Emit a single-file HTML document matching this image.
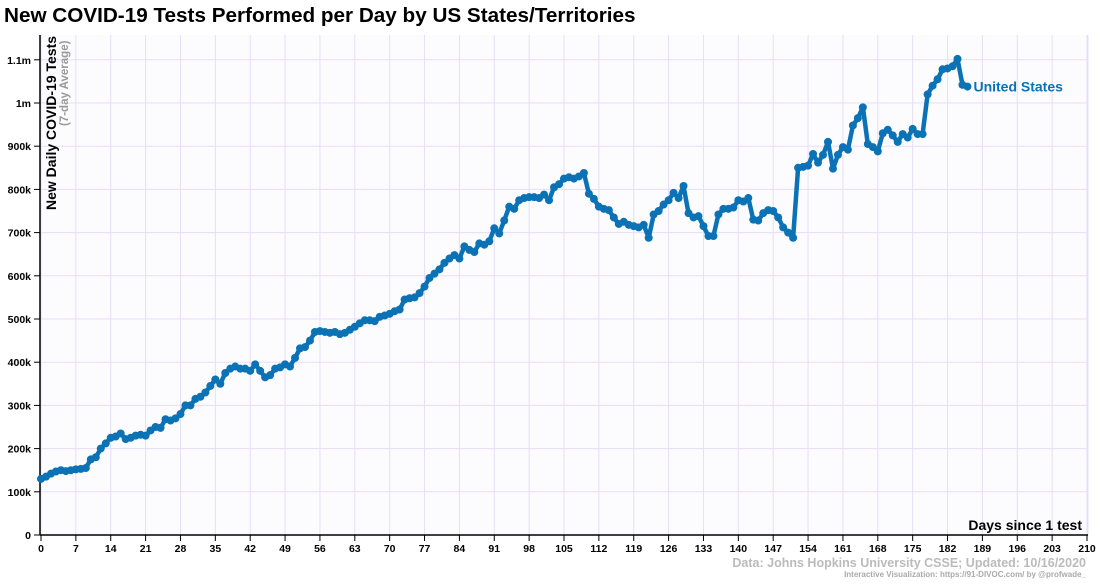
<!DOCTYPE html>
<html><head><meta charset="utf-8">
<style>
html,body{margin:0;padding:0;background:#fff;}
body{width:1108px;height:580px;overflow:hidden;font-family:"Liberation Sans",Arial,sans-serif;}
svg text{font-family:"Liberation Sans",Arial,sans-serif;}
</style></head>
<body>
<svg id="chart" width="1108" height="580" xmlns="http://www.w3.org/2000/svg">
<rect x="0" y="0" width="1108" height="580" fill="#ffffff"/>
<rect x="40" y="35" width="1048" height="500" fill="#fcfcfe"/>
<text x="4" y="22" font-size="20.7" font-weight="bold" fill="#000">New COVID-19 Tests Performed per Day by US States/Territories</text>
<g id="grid"></g>
<g id="axes"></g>
<g id="series"></g>
<text transform="translate(56,210) rotate(-90)" font-size="14" font-weight="bold" fill="#000">New Daily COVID-19 Tests</text>
<text transform="translate(68,126) rotate(-90)" font-size="11.5" font-weight="bold" fill="#999">(7-day Average)</text>
<text x="1082" y="530" text-anchor="end" font-size="14" font-weight="bold" fill="#000">Days since 1 test</text>
<text x="1086" y="567" text-anchor="end" font-size="12.5" font-weight="bold" fill="#bbb">Data: Johns Hopkins University CSSE; Updated: 10/16/2020</text>
<text x="1086" y="577" text-anchor="end" font-size="8" font-weight="bold" fill="#aaa">Interactive Visualization: https://91-DIVOC.com/ by @profwade_</text>
</svg>
<script>
const xTicks = [0,7,14,21,28,35,42,49,56,63,70,77,84,91,98,105,112,119,126,133,140,147,154,161,168,175,182,189,196,203,210];
const yTicks = [0,100,200,300,400,500,600,700,800,900,1000,1100];
const yTickLabels = ["0","100k","200k","300k","400k","500k","600k","700k","800k","900k","1m","1.1m"];
const seriesName = "United States";
const values = [130,135,142,147,150,148,150,152,153,155,175,180,200,212,225,228,235,222,225,230,232,230,242,250,248,268,265,270,280,300,300,315,320,330,345,360,350,375,385,390,385,385,380,395,380,365,370,385,388,395,390,410,432,435,450,470,472,470,468,470,465,468,475,482,490,497,497,495,505,508,512,518,522,545,548,550,560,575,595,605,615,630,640,648,640,668,660,655,675,672,680,710,698,728,760,755,775,780,782,782,780,788,775,805,812,825,828,825,830,838,790,778,760,755,752,735,720,725,718,715,712,718,688,742,750,765,775,792,780,808,745,735,738,715,692,692,742,755,755,758,775,772,780,730,728,745,752,750,735,712,700,688,850,852,855,882,862,880,910,848,880,898,892,948,965,990,905,898,888,930,938,925,910,928,920,940,928,928,1020,1040,1055,1078,1080,1085,1102,1042,1038];

const NS="http://www.w3.org/2000/svg";
const X0=41, X1=1087, Y0=535, YPER=0.432;
function xs(d){return X0+(X1-X0)*d/210;}
function ys(v){return Y0-v*YPER;}
function mk(tag,attrs,parent){const e=document.createElementNS(NS,tag);for(const k in attrs)e.setAttribute(k,attrs[k]);parent.appendChild(e);return e;}
const grid=document.getElementById('grid'), axes=document.getElementById('axes'), series=document.getElementById('series');
xTicks.forEach(t=>{
  const g=mk('line',{x1:xs(t),x2:xs(t),y1:35,y2:535,stroke:'#e6def5','stroke-width':1},grid);
  
  
  const tk=mk('line',{x1:xs(t),x2:xs(t),y1:535,y2:541,stroke:'#000','stroke-width':1},axes);
  
  
  const lb=mk('text',{x:xs(t),y:552,'text-anchor':'middle','font-size':10.5,'font-weight':'bold',fill:'#000'},axes);
  lb.textContent=t;
  
  
});
mk('line',{x1:1088,x2:1088,y1:35,y2:535,stroke:'#e6def5','stroke-width':1},grid);
yTicks.forEach((t,i)=>{
  const g=mk('line',{x1:40,x2:1088,y1:ys(t),y2:ys(t),stroke:'#e6def5','stroke-width':1},grid);
  
  
  const tk=mk('line',{x1:34,x2:40,y1:ys(t),y2:ys(t),stroke:'#000','stroke-width':1},axes);
  
  
  const lb=mk('text',{x:31,y:ys(t)+4,'text-anchor':'end','font-size':10.5,'font-weight':'bold',fill:'#000'},axes);
  lb.textContent=yTickLabels[i];
  
  
});
const ya=mk('line',{x1:40,x2:40,y1:35,y2:535,stroke:'#000','stroke-width':1.5},axes);


const xa=mk('line',{x1:40,x2:1088,y1:535,y2:535,stroke:'#000','stroke-width':1.5},axes);


const pts=values.map((v,i)=>xs(i).toFixed(1)+','+ys(v).toFixed(1)).join(' ');
const line=mk('polyline',{points:pts,fill:'none',stroke:'#0a72b5','stroke-width':4.5,'stroke-linejoin':'round'},series);


values.forEach((v,i)=>{
  const c=mk('circle',{cx:xs(i),cy:ys(v),r:4,fill:'#0a72b5'},series);
  
  
});
const last=values.length-1;
const lab=mk('text',{x:xs(last)+6,y:ys(values[last])+5,'font-size':14,'font-weight':'bold',fill:'#0a72b5'},series);
lab.textContent=seriesName;


</script>
</body></html>
